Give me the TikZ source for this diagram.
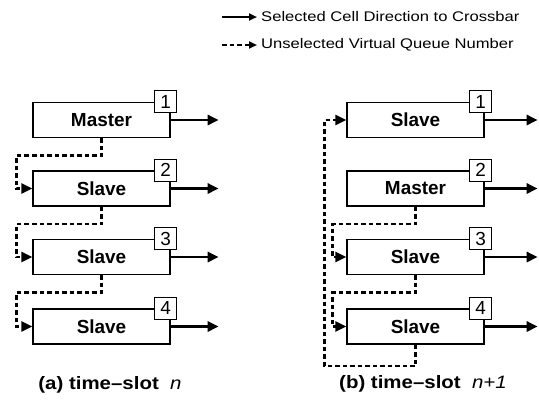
\documentclass[tikz,border=0pt]{standalone}
\usepackage{fontspec}
\setmainfont{Liberation Sans}
\newfontfamily\widesans[FakeStretch=1.19]{Liberation Sans}
\newfontfamily\capsans[FakeStretch=1.14]{Liberation Sans}
\usetikzlibrary{arrows.meta,positioning,calc}
\tikzset{
  x=1bp,y=-1bp,
  >={Triangle[length=11bp,width=10bp]},
  cell/.style={draw,line width=1.3bp,minimum width=137bp,minimum height=35bp,
    inner sep=0pt,font=\fontsize{19}{20}\selectfont\bfseries},
  num/.style={draw,fill=white,line width=1.2bp,minimum size=22bp,inner sep=0pt,
    font=\fontsize{19}{20}\selectfont},
  sel/.style={->,line width=2.8bp},
  unsel/.style={->,line width=2.6bp,dash pattern=on 4.5bp off 3bp},
  legend/.style={font=\widesans\fontsize{14}{16}\selectfont,anchor=west,inner sep=0pt},
  caption/.style={font=\capsans\fontsize{18}{20}\selectfont\bfseries},
}

\begin{document}
\begin{tikzpicture}
  \useasboundingbox (0,0) rectangle (539,403);
  % legend
  \coordinate (l1a) at (222,17); \coordinate (l1b) at (257,17);
  \coordinate (l2a) at (222,45); \coordinate (l2b) at (257,45);
  \draw[sel,line width=2bp,>={Triangle[length=8bp,width=7bp]}] (l1a) -- (l1b);
  \draw[unsel,line width=2bp,>={Triangle[length=8bp,width=7bp]}] (l2a) -- (l2b);
  \node[legend] (t1) at (261,17) {Selected Cell Direction to Crossbar};
  \node[legend] (t2) at (261,45) {Unselected Virtual Queue Number};
  % queues, slot n (a) and slot n+1 (b)
  \foreach \i/\y/\ta/\tb in {1/120/Master/Slave,2/188.5/Slave/Master,3/257/Slave/Slave,4/326.5/Slave/Slave}{
    \node[cell] (a\i) at (101.5,\y) {\ta};
    \node[num] (na\i) at ([xshift=-5bp]a\i.north east) {\i};
    \coordinate (ea\i) at ([xshift=48bp]a\i.east);
    \draw[sel] (a\i.east) -- (ea\i);
    \node[cell] (b\i) at (415.5,\y) {\tb};
    \node[num] (nb\i) at ([xshift=-4bp]b\i.north east) {\i};
    \coordinate (eb\i) at ([xshift=53bp]b\i.east);
    \draw[sel] (b\i.east) -- (eb\i);
  }
  % passing the virtual queue number down the chain
  \foreach \i/\j in {1/2,2/3,3/4}{
    \draw[unsel] (a\i.south) -- ++(0,17.5) -| ([xshift=-16bp]a\j.west) -- (a\j.west);
  }
  \foreach \i/\j in {2/3,3/4}{
    \draw[unsel] (b\i.south) -- ++(0,17.5) -| ([xshift=-14bp]b\j.west) -- (b\j.west);
  }
  \draw[unsel] (b4.south) -- ++(0,21.5) -| ([xshift=-22bp]b1.west) -- (b1.west);
  % captions
  \node[caption] (ca) at (110,385) {(a) time–slot \ \textit{\mdseries n}};
  \node[caption] (cb) at (423,384) {(b) time–slot \ \textit{\mdseries n+1}};
\end{tikzpicture}
\end{document}
